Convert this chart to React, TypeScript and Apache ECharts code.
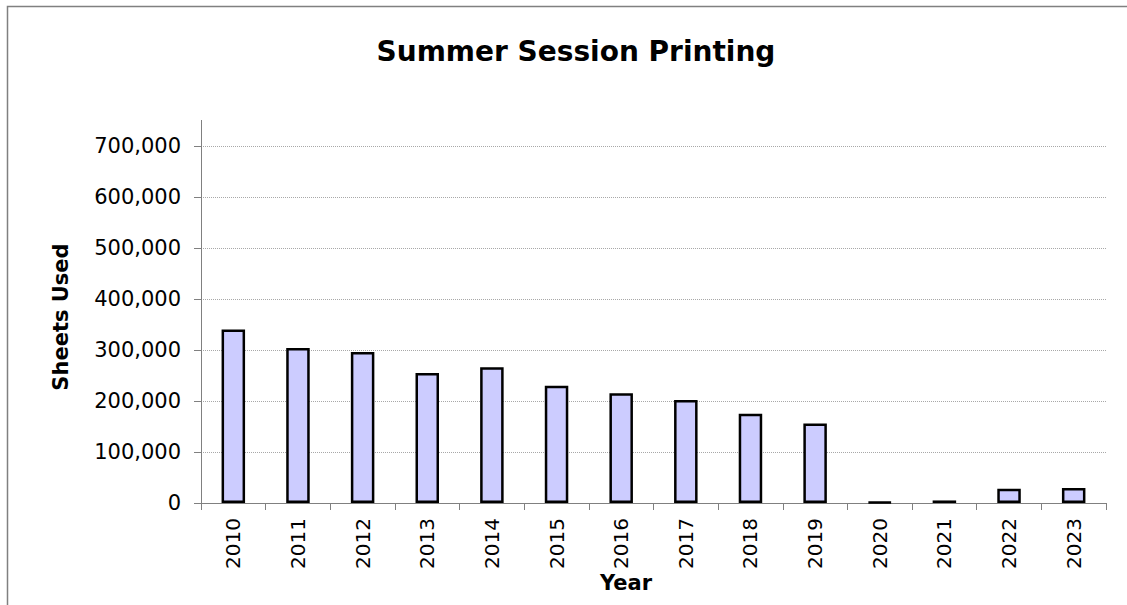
import React, { useEffect, useRef } from "react";
import * as echarts from "echarts";

const years = ["2010", "2011", "2012", "2013", "2014", "2015", "2016", "2017", "2018", "2019", "2020", "2021", "2022", "2023"];
const sheetsUsed = [340000, 304000, 296000, 255000, 266000, 230000, 215000, 202000, 175000, 156000, 1500, 5000, 28000, 29500];
const yMin = 0;
const yMax = 700000;
const yStep = 100000;

const titleText = "Summer Session Printing";
const yTitle = "Sheets Used";
const xTitle = "Year";

const FONT = "'DejaVu Sans', Verdana, sans-serif";

export default function App() {
  const ref = useRef<HTMLDivElement>(null);
  useEffect(() => {
    if (!ref.current) return;
    const chart = echarts.init(ref.current, undefined, { renderer: "svg" });
    chart.setOption({
      animation: false,
      backgroundColor: "#ffffff",
      textStyle: { fontFamily: FONT },
      grid: { left: 201, right: 21, top: 146, bottom: 102, containLabel: false },
      xAxis: {
        type: "category",
        data: years,
        axisLine: { show: true, lineStyle: { color: "#808080", width: 1 } },
        axisTick: { show: true, length: 7, lineStyle: { color: "#808080", width: 1 } },
        axisLabel: { rotate: 90, fontSize: 20, fontFamily: FONT, color: "#000", margin: 15 },
      },
      yAxis: {
        type: "value",
        min: yMin,
        max: yMax,
        interval: yStep,
        axisLine: { show: true, lineStyle: { color: "#808080", width: 1 } },
        axisTick: { show: true, length: 7, lineStyle: { color: "#808080", width: 1 } },
        axisLabel: {
          fontSize: 21,
          fontFamily: FONT,
          color: "#000",
          margin: 20,
          formatter: (v: number) => v.toLocaleString("en-US"),
        },
        splitLine: { show: true, lineStyle: { type: "dotted", color: "#a8a8a8", width: 1 } },
      },
      series: [
        {
          type: "bar",
          data: sheetsUsed,
          barWidth: 23.5,
          itemStyle: { color: "#CCCCFF", borderColor: "#000", borderWidth: 2.5 },
        },
      ],
      graphic: [
        {
          type: "polyline",
          shape: { points: [[7.5, 605], [7.5, 6.5], [1127, 6.5]] },
          style: { stroke: "#808080", lineWidth: 1.5, fill: null },
        },
        {
          type: "line",
          shape: { x1: 201.5, y1: 120, x2: 201.5, y2: 146 },
          style: { stroke: "#808080", lineWidth: 1 },
        },
        {
          type: "text",
          x: 576,
          y: 51,
          style: {
            text: titleText,
            fontFamily: FONT,
            fontSize: 28,
            fontWeight: "bold",
            fill: "#000",
            textAlign: "center",
            textVerticalAlign: "middle",
          },
        },
        {
          type: "text",
          x: 61,
          y: 317,
          rotation: Math.PI / 2,
          style: {
            text: yTitle,
            fontFamily: FONT,
            fontSize: 21,
            fontWeight: "bold",
            fill: "#000",
            textAlign: "center",
            textVerticalAlign: "middle",
          },
        },
        {
          type: "text",
          x: 626,
          y: 583,
          style: {
            text: xTitle,
            fontFamily: FONT,
            fontSize: 21,
            fontWeight: "bold",
            fill: "#000",
            textAlign: "center",
            textVerticalAlign: "middle",
          },
        },
      ],
    });
    return () => chart.dispose();
  }, []);
  return (
    <div
      ref={ref}
      style={{ position: "fixed", left: 0, top: 0, width: 1127, height: 605 }}
    />
  );
}
